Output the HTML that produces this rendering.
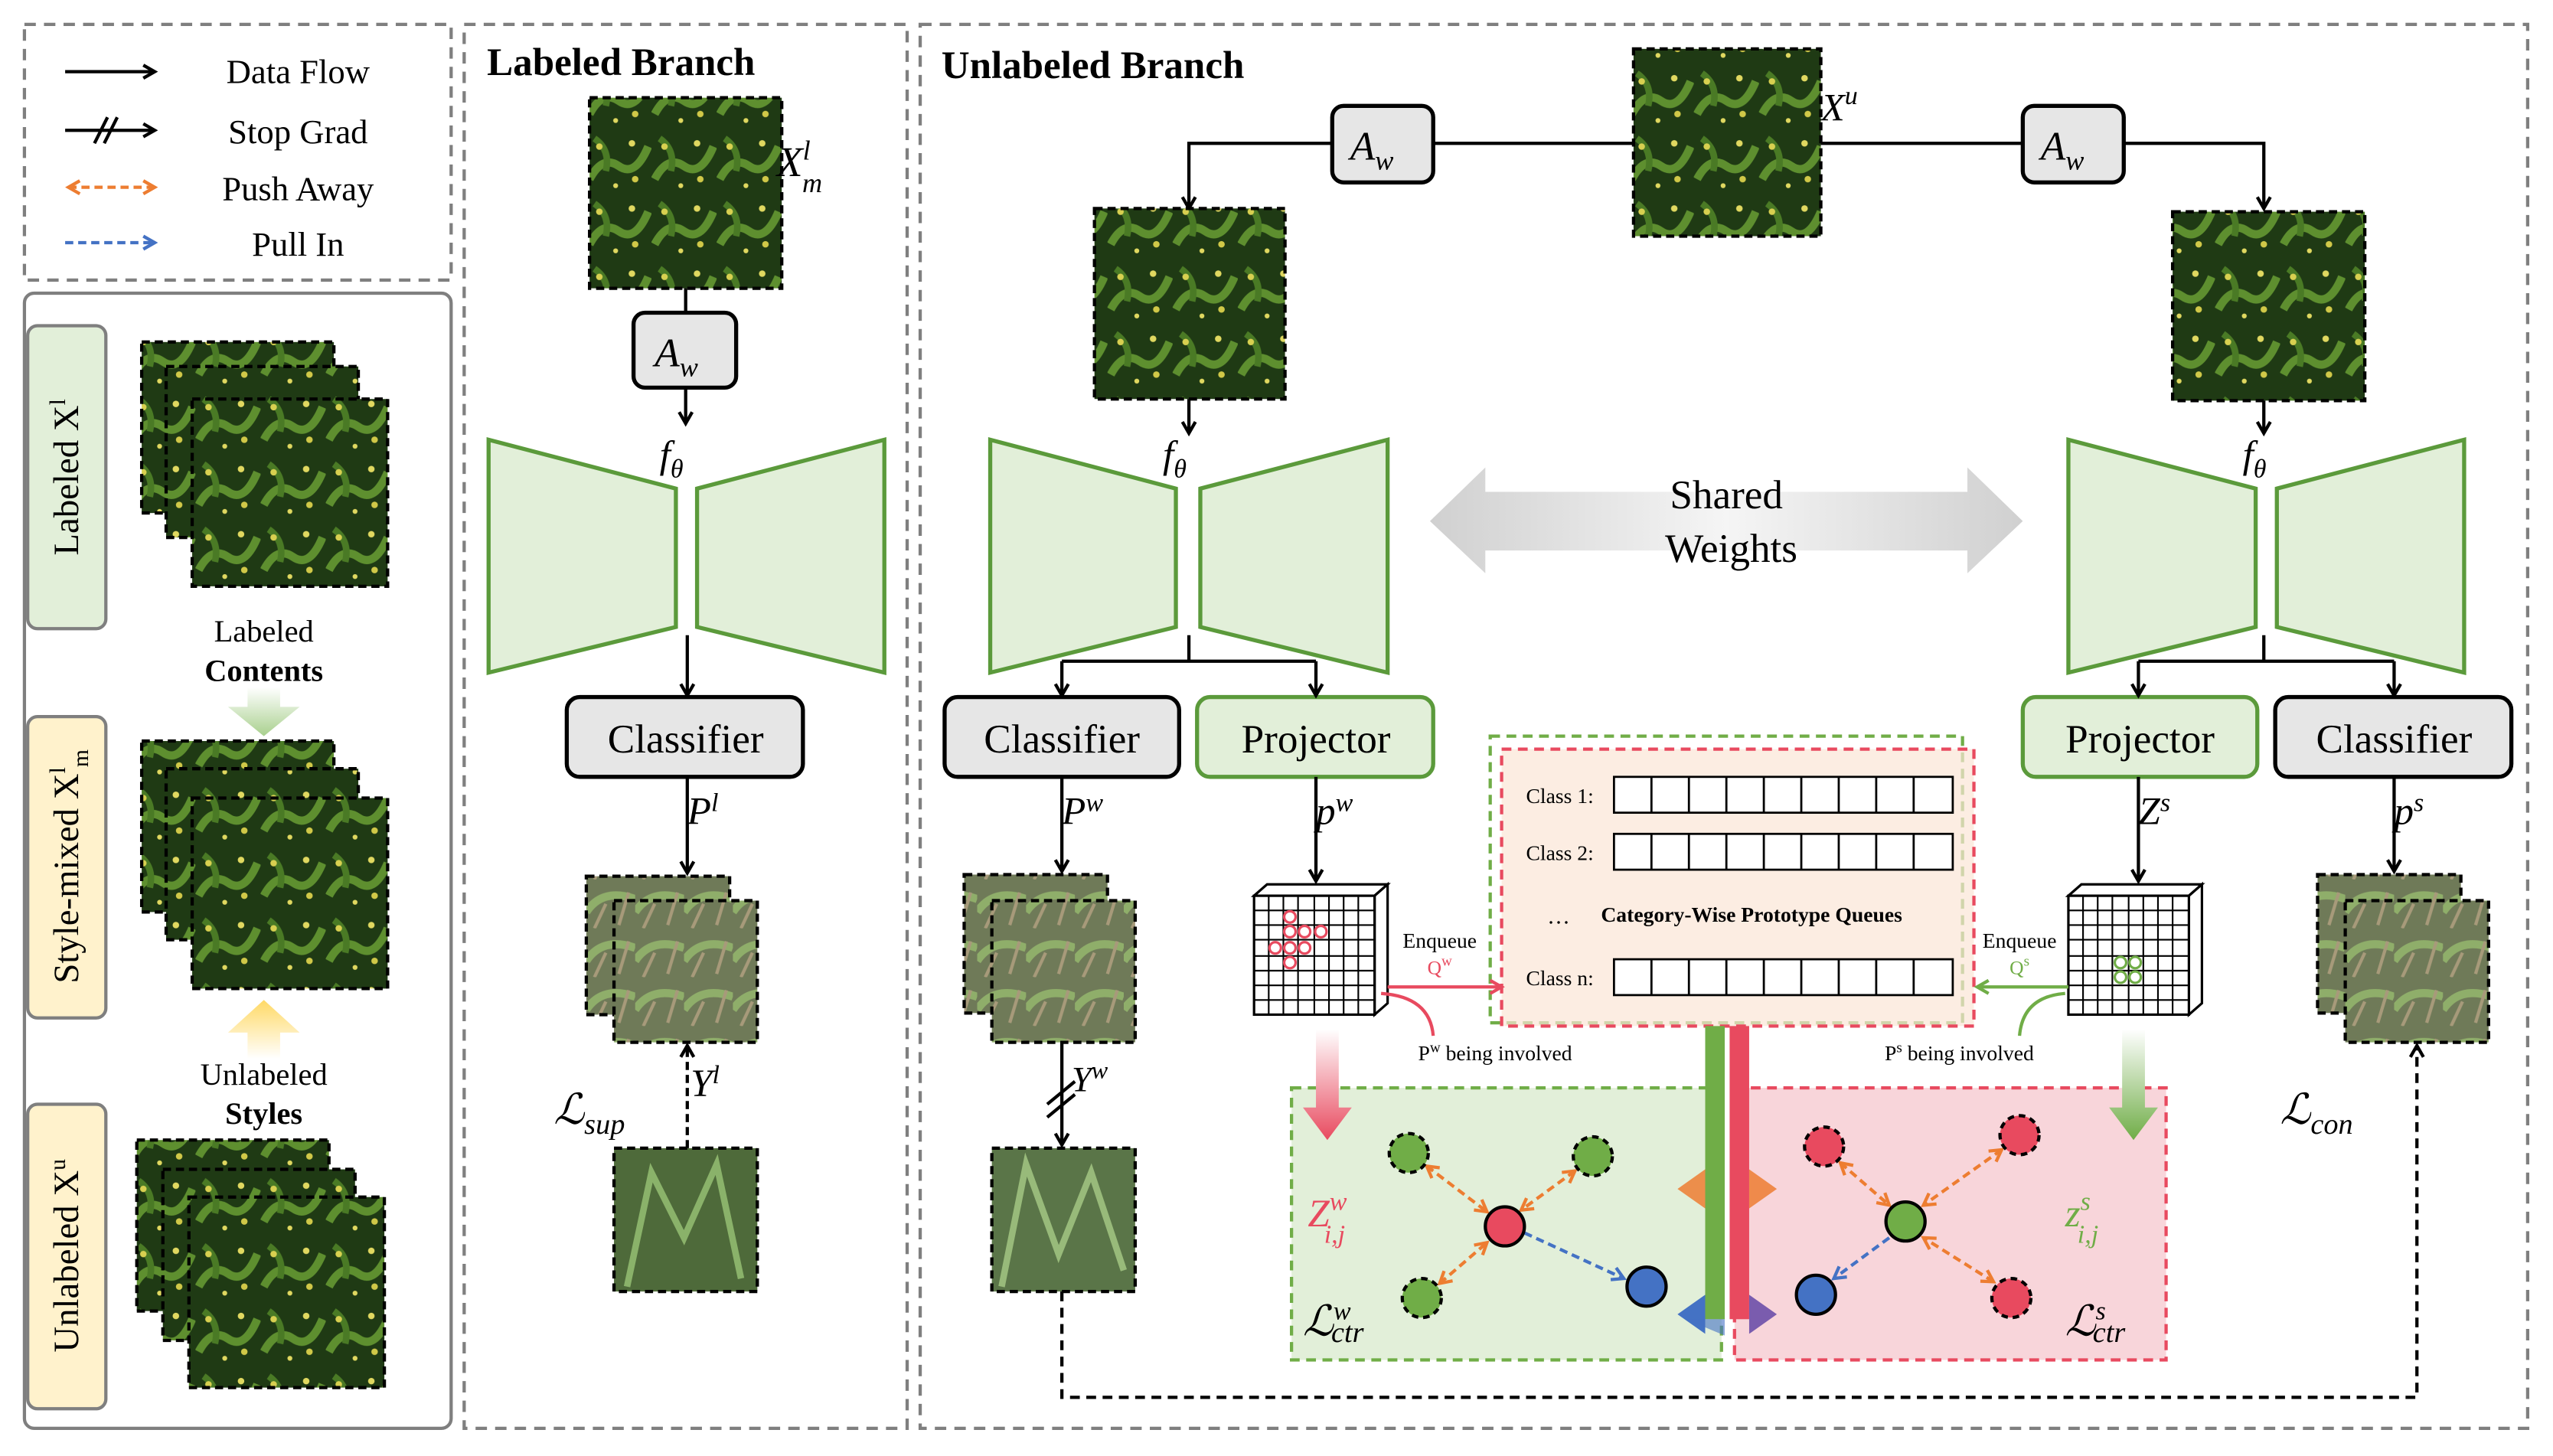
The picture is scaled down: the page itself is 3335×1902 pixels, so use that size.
<!DOCTYPE html>
<html><head><meta charset="utf-8"><style>
html,body{margin:0;padding:0;background:#fff}
svg{display:block}
text{font-family:"Liberation Serif",serif}
.it{font-style:italic}
</style></head><body>
<svg width="3335" height="1902" viewBox="0 0 1567 894" preserveAspectRatio="xMinYMin meet" xmlns="http://www.w3.org/2000/svg">
<defs>
<marker id="ah" markerWidth="10" markerHeight="10" refX="8" refY="5" orient="auto" markerUnits="userSpaceOnUse"><path d="M1,1 L8,5 L1,9" fill="none" stroke="#000" stroke-width="2"/></marker>
<marker id="ao" markerWidth="10" markerHeight="10" refX="8" refY="5" orient="auto-start-reverse" markerUnits="userSpaceOnUse"><path d="M1,1 L8,5 L1,9" fill="none" stroke="#ed7d31" stroke-width="2"/></marker>
<marker id="ab" markerWidth="10" markerHeight="10" refX="8" refY="5" orient="auto" markerUnits="userSpaceOnUse"><path d="M1,1 L8,5 L1,9" fill="none" stroke="#4472c4" stroke-width="2"/></marker>
<marker id="ar" markerWidth="10" markerHeight="10" refX="8" refY="5" orient="auto" markerUnits="userSpaceOnUse"><path d="M1,1 L8,5 L1,9" fill="none" stroke="#e84a5f" stroke-width="2"/></marker>
<marker id="ag" markerWidth="10" markerHeight="10" refX="8" refY="5" orient="auto" markerUnits="userSpaceOnUse"><path d="M1,1 L8,5 L1,9" fill="none" stroke="#70ad47" stroke-width="2"/></marker>
<pattern id="plant" width="40" height="40" patternUnits="userSpaceOnUse">
<rect width="40" height="40" fill="#1f3a14"/>
<path d="M2,30 Q10,15 20,22 T38,10" stroke="#5e8f2f" stroke-width="5" fill="none"/>
<path d="M5,5 Q15,12 12,25" stroke="#4a7a25" stroke-width="4" fill="none"/>
<circle cx="8" cy="10" r="2" fill="#d8d050"/><circle cx="28" cy="8" r="2" fill="#e0d860"/><circle cx="30" cy="30" r="2" fill="#d0c848"/><circle cx="18" cy="34" r="1.5" fill="#e0d860"/>
</pattern>
<pattern id="field" width="30" height="30" patternUnits="userSpaceOnUse">
<rect width="30" height="30" fill="#6f7a58"/>
<path d="M0,20 Q10,5 30,12" stroke="#8fae6a" stroke-width="5" fill="none"/>
<path d="M5,30 L12,15 M20,28 L26,8" stroke="#a79a7a" stroke-width="2"/>
</pattern>
<linearGradient id="gw" x1="0" x2="1"><stop offset="0" stop-color="#d0d0d0"/><stop offset=".5" stop-color="#f5f5f5"/><stop offset="1" stop-color="#d0d0d0"/></linearGradient>
<linearGradient id="gdn" x1="0" y1="0" x2="0" y2="1"><stop offset="0" stop-color="#fff"/><stop offset="1" stop-color="#a9d08e"/></linearGradient>
<linearGradient id="gup" x1="0" y1="1" x2="0" y2="0"><stop offset="0" stop-color="#fff"/><stop offset="1" stop-color="#ffd966"/></linearGradient>
<linearGradient id="rdn" x1="0" y1="0" x2="0" y2="1"><stop offset="0" stop-color="#fff"/><stop offset="1" stop-color="#e84a5f"/></linearGradient>
<linearGradient id="gdn2" x1="0" y1="0" x2="0" y2="1"><stop offset="0" stop-color="#fff"/><stop offset="1" stop-color="#70ad47"/></linearGradient>
</defs>

<g fill="none" stroke="#7f7f7f" stroke-width="2" stroke-dasharray="7,5">
<rect x="15" y="15" width="262" height="157"/>
<rect x="285" y="15" width="272" height="862"/>
<rect x="565" y="15" width="987" height="862"/>
</g>
<rect x="15" y="180" width="262" height="697" rx="6" fill="none" stroke="#7f7f7f" stroke-width="2"/>

<line x1="40" y1="44" x2="95" y2="44" stroke="#000" stroke-width="2" marker-end="url(#ah)"/>
<line x1="40" y1="80" x2="95" y2="80" stroke="#000" stroke-width="2" marker-end="url(#ah)"/>
<path d="M58,88 L66,72 M64,88 L72,72" stroke="#000" stroke-width="2"/>
<line x1="42" y1="115" x2="95" y2="115" stroke="#ed7d31" stroke-width="2" stroke-dasharray="5,3" marker-end="url(#ao)" marker-start="url(#ao)"/>
<line x1="40" y1="149" x2="95" y2="149" stroke="#4472c4" stroke-width="2" stroke-dasharray="5,3" marker-end="url(#ab)"/>
<g font-size="21" text-anchor="middle"><text x="183" y="51">Data Flow</text><text x="183" y="88">Stop Grad</text><text x="183" y="123">Push Away</text><text x="183" y="157">Pull In</text></g>

<rect x="17" y="200" width="48" height="186" rx="6" fill="#e2efd9" stroke="#7f7f7f" stroke-width="2"/>
<rect x="17" y="440" width="48" height="185" rx="6" fill="#fff2cc" stroke="#7f7f7f" stroke-width="2"/>
<rect x="17" y="678" width="48" height="187" rx="6" fill="#fff2cc" stroke="#7f7f7f" stroke-width="2"/>
<g font-size="22" text-anchor="middle">
<text transform="translate(48,293) rotate(-90)">Labeled X<tspan font-size="14" dy="-8">l</tspan></text>
<text transform="translate(48,532) rotate(-90)">Style-mixed X<tspan font-size="14" dy="-8">l</tspan><tspan font-size="14" dy="14">m</tspan></text>
<text transform="translate(48,771) rotate(-90)">Unlabeled X<tspan font-size="14" dy="-8">u</tspan></text>
</g>
<g stroke="#000" stroke-width="2" stroke-dasharray="5,3" fill="url(#plant)">
<rect x="87" y="210" width="118" height="105"/><rect x="102" y="225" width="118" height="105"/><rect x="118" y="245" width="120" height="115"/>
<rect x="87" y="455" width="118" height="105"/><rect x="102" y="472" width="118" height="105"/><rect x="118" y="490" width="120" height="117"/>
<rect x="84" y="700" width="118" height="105"/><rect x="100" y="718" width="118" height="105"/><rect x="116" y="735" width="120" height="117"/>
</g>
<g font-size="19" text-anchor="middle"><text x="162" y="394">Labeled</text><text x="162" y="418" font-weight="bold">Contents</text>
<text x="162" y="666">Unlabeled</text><text x="162" y="690" font-weight="bold">Styles</text></g>
<path d="M152,422 L172,422 L172,434 L184,434 L162,452 L140,434 L152,434Z" fill="url(#gdn)"/>
<path d="M152,650 L172,650 L172,634 L184,634 L162,614 L140,634 L152,634Z" fill="url(#gup)"/>

<text x="299" y="46" font-size="24" font-weight="bold">Labeled Branch</text>
<rect x="362" y="60" width="118" height="117" fill="url(#plant)" stroke="#000" stroke-width="2" stroke-dasharray="5,3"/>
<text x="477" y="108" font-size="26" class="it">X<tspan font-size="17" dy="-10">l</tspan><tspan font-size="17" dx="-5" dy="20">m</tspan></text>
<line x1="421" y1="177" x2="421" y2="192" stroke="#000" stroke-width="2"/>
<rect x="389" y="192" width="63" height="46" rx="7" fill="#e6e6e6" stroke="#000" stroke-width="2.5"/>
<text x="402" y="225" font-size="25" class="it">A<tspan font-size="17" dy="6">w</tspan></text>
<line x1="421" y1="238" x2="421" y2="260" stroke="#000" stroke-width="2" marker-end="url(#ah)"/>
<text x="405" y="287" font-size="24" class="it">f<tspan font-size="16" dy="6">θ</tspan></text>
<g fill="#e2efd9" stroke="#5b9a3b" stroke-width="2.5">
<polygon points="300,270 415,300 415,385 300,413"/><polygon points="428,300 543,270 543,413 428,385"/>
<polygon points="608,270 722,300 722,385 608,413"/><polygon points="737,300 852,270 852,413 737,385"/>
<polygon points="1270,270 1385,300 1385,385 1270,413"/><polygon points="1398,300 1513,270 1513,413 1398,385"/>
</g>
<line x1="422" y1="390" x2="422" y2="427" stroke="#000" stroke-width="2" marker-end="url(#ah)"/>
<g stroke="#000" stroke-width="2.5" fill="#e6e6e6">
<rect x="348" y="428" width="145" height="49" rx="8"/>
<rect x="580" y="428" width="144" height="49" rx="8"/>
<rect x="1397" y="428" width="145" height="49" rx="8"/>
</g>
<g stroke="#5b9a3b" stroke-width="2.5" fill="#e2efd9">
<rect x="735" y="428" width="145" height="49" rx="8"/>
<rect x="1242" y="428" width="144" height="49" rx="8"/>
</g>
<g font-size="25" text-anchor="middle">
<text x="421" y="462">Classifier</text><text x="652" y="462">Classifier</text><text x="808" y="462">Projector</text><text x="1314" y="462">Projector</text><text x="1470" y="462">Classifier</text>
</g>
<line x1="422" y1="477" x2="422" y2="536" stroke="#000" stroke-width="2" marker-end="url(#ah)"/>
<text x="422" y="506" font-size="24" class="it">P<tspan font-size="16" dy="-8">l</tspan></text>
<g stroke="#000" stroke-width="2" stroke-dasharray="5,3" fill="url(#field)">
<rect x="360" y="538" width="88" height="85"/><rect x="377" y="553" width="88" height="87"/>
<rect x="592" y="537" width="88" height="85"/><rect x="609" y="553" width="88" height="87"/>
<rect x="1423" y="537" width="88" height="85"/><rect x="1440" y="553" width="88" height="87"/>
</g>
<rect x="377" y="705" width="88" height="88" fill="#4e6a3a" stroke="#000" stroke-width="2" stroke-dasharray="5,3"/>
<path d="M385,790 L400,720 L420,760 L440,715 L455,785" stroke="#8ab26a" stroke-width="4" fill="none"/>
<line x1="422" y1="705" x2="422" y2="642" stroke="#000" stroke-width="2" stroke-dasharray="5,3" marker-end="url(#ah)"/>
<text x="424" y="673" font-size="24" class="it">Y<tspan font-size="16" dy="-8">l</tspan></text>
<text x="340" y="690" font-size="26" class="it">ℒ<tspan font-size="18" dy="6">sup</tspan></text>

<text x="578" y="48" font-size="24" font-weight="bold">Unlabeled Branch</text>
<rect x="1003" y="30" width="115" height="115" fill="url(#plant)" stroke="#000" stroke-width="2" stroke-dasharray="5,3"/>
<text x="1118" y="74" font-size="24" class="it">X<tspan font-size="16" dy="-10">u</tspan></text>
<path d="M1003,88 L880,88 M818,88 L730,88 L730,128" fill="none" stroke="#000" stroke-width="2" marker-end="url(#ah)"/>
<path d="M1118,88 L1242,88 M1304,88 L1390,88 L1390,128" fill="none" stroke="#000" stroke-width="2" marker-end="url(#ah)"/>
<rect x="818" y="65" width="62" height="47" rx="7" fill="#e6e6e6" stroke="#000" stroke-width="2.5"/>
<rect x="1242" y="65" width="62" height="47" rx="7" fill="#e6e6e6" stroke="#000" stroke-width="2.5"/>
<text x="829" y="98" font-size="25" class="it">A<tspan font-size="17" dy="6">w</tspan></text>
<text x="1253" y="98" font-size="25" class="it">A<tspan font-size="17" dy="6">w</tspan></text>
<rect x="672" y="128" width="117" height="117" fill="url(#plant)" stroke="#000" stroke-width="2" stroke-dasharray="5,3"/>
<rect x="1334" y="130" width="118" height="116" fill="url(#plant)" stroke="#000" stroke-width="2" stroke-dasharray="5,3"/>
<line x1="730" y1="245" x2="730" y2="266" stroke="#000" stroke-width="2" marker-end="url(#ah)"/>
<line x1="1390" y1="246" x2="1390" y2="266" stroke="#000" stroke-width="2" marker-end="url(#ah)"/>
<text x="714" y="287" font-size="24" class="it">f<tspan font-size="16" dy="6">θ</tspan></text>
<text x="1377" y="287" font-size="24" class="it">f<tspan font-size="16" dy="6">θ</tspan></text>
<path d="M878,320 L912,287 L912,302 L1208,302 L1208,287 L1242,320 L1208,352 L1208,338 L912,338 L912,352Z" fill="url(#gw)"/>
<text x="1060" y="312" font-size="25" text-anchor="middle">Shared</text>
<text x="1063" y="345" font-size="25" text-anchor="middle">Weights</text>
<path d="M730,390 L730,406 M652,406 L808,406" stroke="#000" stroke-width="2" fill="none"/>
<line x1="652" y1="406" x2="652" y2="427" stroke="#000" stroke-width="2" marker-end="url(#ah)"/>
<line x1="808" y1="406" x2="808" y2="427" stroke="#000" stroke-width="2" marker-end="url(#ah)"/>
<path d="M1390,390 L1390,406 M1313,406 L1470,406" stroke="#000" stroke-width="2" fill="none"/>
<line x1="1313" y1="406" x2="1313" y2="427" stroke="#000" stroke-width="2" marker-end="url(#ah)"/>
<line x1="1470" y1="406" x2="1470" y2="427" stroke="#000" stroke-width="2" marker-end="url(#ah)"/>
<line x1="652" y1="477" x2="652" y2="535" stroke="#000" stroke-width="2" marker-end="url(#ah)"/>
<line x1="808" y1="477" x2="808" y2="541" stroke="#000" stroke-width="2" marker-end="url(#ah)"/>
<line x1="1313" y1="477" x2="1313" y2="541" stroke="#000" stroke-width="2" marker-end="url(#ah)"/>
<line x1="1470" y1="477" x2="1470" y2="535" stroke="#000" stroke-width="2" marker-end="url(#ah)"/>
<g font-size="24" class="it">
<text x="652" y="506">P<tspan font-size="16" dy="-8">w</tspan></text>
<text x="808" y="506">p<tspan font-size="16" dy="-8">w</tspan></text>
<text x="1313" y="506">Z<tspan font-size="16" dy="-8">s</tspan></text>
<text x="1470" y="506">p<tspan font-size="16" dy="-8">s</tspan></text>
</g>
<line x1="652" y1="640" x2="652" y2="703" stroke="#000" stroke-width="2" marker-end="url(#ah)"/>
<path d="M643,678 L660,664 M643,686 L660,672" stroke="#000" stroke-width="2"/>
<text x="658" y="670" font-size="22" class="it">Y<tspan font-size="15" dy="-8">w</tspan></text>
<rect x="609" y="705" width="88" height="88" fill="#5a7548" stroke="#000" stroke-width="2" stroke-dasharray="5,3"/>
<path d="M615,790 L630,715 L650,770 L670,720 L690,780" stroke="#98ba7a" stroke-width="4" fill="none"/>

<g stroke="#000" stroke-width="1.5" fill="#fff">
<polygon points="770,550 778,543 852,543 844,550"/><polygon points="844,550 852,543 852,616 844,623"/>
<rect x="770" y="550" width="74" height="73"/>
<polygon points="1270,550 1278,543 1352,543 1344,550"/><polygon points="1344,550 1352,543 1352,616 1344,623"/>
<rect x="1270" y="550" width="74" height="73"/>
</g>
<g stroke="#000" stroke-width="1">
<path d="M779,550V623M788,550V623M797,550V623M807,550V623M816,550V623M825,550V623M834,550V623M770,559H844M770,568H844M770,577H844M770,587H844M770,596H844M770,605H844M770,614H844"/>
<path d="M1279,550V623M1288,550V623M1297,550V623M1307,550V623M1316,550V623M1325,550V623M1334,550V623M1270,559H1344M1270,568H1344M1270,577H1344M1270,587H1344M1270,596H1344M1270,605H1344M1270,614H1344"/>
</g>
<g fill="none" stroke="#e84a5f" stroke-width="1.5"><circle cx="792" cy="563" r="3.5"/><circle cx="792" cy="572" r="3.5"/><circle cx="792" cy="582" r="3.5"/><circle cx="792" cy="591" r="3.5"/><circle cx="801" cy="572" r="3.5"/><circle cx="801" cy="582" r="3.5"/><circle cx="811" cy="572" r="3.5"/><circle cx="783" cy="582" r="3.5"/></g>
<g fill="none" stroke="#70ad47" stroke-width="1.5"><circle cx="1302" cy="591" r="3.5"/><circle cx="1311" cy="591" r="3.5"/><circle cx="1302" cy="600" r="3.5"/><circle cx="1311" cy="600" r="3.5"/></g>

<rect x="915" y="452" width="290" height="176" fill="none" stroke="#70ad47" stroke-width="2" stroke-dasharray="6,4"/>
<rect x="922" y="460" width="290" height="170" fill="#fbe5d6" fill-opacity=".7" stroke="#e84a5f" stroke-width="2" stroke-dasharray="6,4"/>
<g font-size="13"><text x="937" y="493">Class 1:</text><text x="937" y="528">Class 2:</text><text x="937" y="605">Class n:</text>
<text x="950" y="567" font-size="14">…</text><text x="983" y="566" font-weight="bold">Category-Wise Prototype Queues</text></g>
<g fill="#fff" stroke="#000" stroke-width="1.3">
<rect x="991" y="477" width="208" height="22"/><rect x="991" y="512" width="208" height="22"/><rect x="991" y="589" width="208" height="22"/>
</g>
<g stroke="#000" stroke-width="1.3">
<path d="M1014,477V499M1037,477V499M1060,477V499M1083,477V499M1106,477V499M1129,477V499M1152,477V499M1175,477V499"/>
<path d="M1014,512V534M1037,512V534M1060,512V534M1083,512V534M1106,512V534M1129,512V534M1152,512V534M1175,512V534"/>
<path d="M1014,589V611M1037,589V611M1060,589V611M1083,589V611M1106,589V611M1129,589V611M1152,589V611M1175,589V611"/>
</g>
<text x="884" y="582" font-size="13" text-anchor="middle">Enqueue</text>
<text x="884" y="598" font-size="12" text-anchor="middle" fill="#e84a5f">Q<tspan font-size="9" dy="-5">w</tspan></text>
<text x="1240" y="582" font-size="13" text-anchor="middle">Enqueue</text>
<text x="1240" y="598" font-size="12" text-anchor="middle" fill="#70ad47">Q<tspan font-size="9" dy="-5">s</tspan></text>
<line x1="852" y1="606" x2="922" y2="606" stroke="#e84a5f" stroke-width="2" marker-end="url(#ar)"/>
<path d="M848,610 Q878,612 880,636" fill="none" stroke="#e84a5f" stroke-width="2"/>
<line x1="1270" y1="606" x2="1214" y2="606" stroke="#70ad47" stroke-width="2" marker-end="url(#ag)"/>
<path d="M1268,610 Q1242,612 1240,636" fill="none" stroke="#70ad47" stroke-width="2"/>
<text x="918" y="651" font-size="13" text-anchor="middle">P<tspan font-size="9" dy="-5">w</tspan><tspan dy="5"> being involved</tspan></text>
<text x="1203" y="651" font-size="13" text-anchor="middle">P<tspan font-size="9" dy="-5">s</tspan><tspan dy="5"> being involved</tspan></text>

<rect x="793" y="668" width="264" height="167" fill="#e2efd9" stroke="#70ad47" stroke-width="2" stroke-dasharray="6,4"/>
<rect x="1065" y="668" width="265" height="167" fill="#f8d5da" stroke="#e84a5f" stroke-width="2" stroke-dasharray="6,4"/>
<path d="M808,632 L822,632 L822,680 L830,680 L815,700 L800,680 L808,680Z" fill="url(#rdn)"/>
<path d="M1303,632 L1317,632 L1317,680 L1325,680 L1310,700 L1295,680 L1303,680Z" fill="url(#gdn2)"/>
<rect x="1047" y="630" width="12" height="180" fill="#70ad47"/>
<rect x="1062" y="630" width="12" height="180" fill="#e84a5f"/>
<path d="M1047,718 L1030,730 L1047,742Z M1074,718 L1091,730 L1074,742Z" fill="#ed7d31" opacity=".85"/>
<path d="M1047,795 L1030,807 L1047,819Z" fill="#4472c4"/><path d="M1074,795 L1091,807 L1074,819Z" fill="#7a5cae"/>
<path d="M1035,810 L1059,810 L1059,820 Z" fill="#4472c4" opacity=".6"/>

<g stroke="#ed7d31" stroke-width="2" stroke-dasharray="5,3" marker-start="url(#ao)" marker-end="url(#ao)">
<line x1="876" y1="716" x2="913" y2="744"/><line x1="967" y1="719" x2="934" y2="743"/><line x1="884" y1="788" x2="913" y2="763"/>
<line x1="1130" y1="714" x2="1160" y2="740"/><line x1="1229" y1="706" x2="1181" y2="740"/><line x1="1224" y1="787" x2="1181" y2="760"/>
</g>
<line x1="936" y1="757" x2="997" y2="785" stroke="#4472c4" stroke-width="2" stroke-dasharray="5,3" marker-end="url(#ab)"/>
<line x1="1160" y1="760" x2="1126" y2="785" stroke="#4472c4" stroke-width="2" stroke-dasharray="5,3" marker-end="url(#ab)"/>
<g stroke="#000" stroke-width="2">
<circle cx="924" cy="753" r="12" fill="#e84a5f"/>
<circle cx="1011" cy="790" r="12" fill="#4472c4"/>
<circle cx="1170" cy="750" r="12" fill="#70ad47"/>
<circle cx="1115" cy="795" r="12" fill="#4472c4"/>
</g>
<g stroke="#000" stroke-width="2" stroke-dasharray="4,3">
<circle cx="865" cy="708" r="12" fill="#70ad47"/><circle cx="978" cy="710" r="12" fill="#70ad47"/><circle cx="873" cy="797" r="12" fill="#70ad47"/>
<circle cx="1120" cy="704" r="12" fill="#e84a5f"/><circle cx="1240" cy="697" r="12" fill="#e84a5f"/><circle cx="1235" cy="797" r="12" fill="#e84a5f"/>
</g>
<text x="803" y="753" font-size="24" class="it" fill="#e84a5f">Z<tspan font-size="16" dy="-10">w</tspan><tspan font-size="16" dx="-14" dy="20">i,j</tspan></text>
<text x="1268" y="753" font-size="24" class="it" fill="#70ad47">z<tspan font-size="16" dy="-10">s</tspan><tspan font-size="16" dx="-8" dy="20">i,j</tspan></text>
<text x="800" y="820" font-size="26" class="it">ℒ<tspan font-size="16" dy="-10">w</tspan><tspan font-size="18" dx="-12" dy="14">ctr</tspan></text>
<text x="1268" y="820" font-size="26" class="it">ℒ<tspan font-size="16" dy="-10">s</tspan><tspan font-size="18" dx="-8" dy="14">ctr</tspan></text>

<path d="M652,793 L652,858 L1484,858 L1484,642" fill="none" stroke="#000" stroke-width="2" stroke-dasharray="6,4" marker-end="url(#ah)"/>
<text x="1400" y="690" font-size="26" class="it">ℒ<tspan font-size="18" dy="6">con</tspan></text>
</svg>
</body></html>
